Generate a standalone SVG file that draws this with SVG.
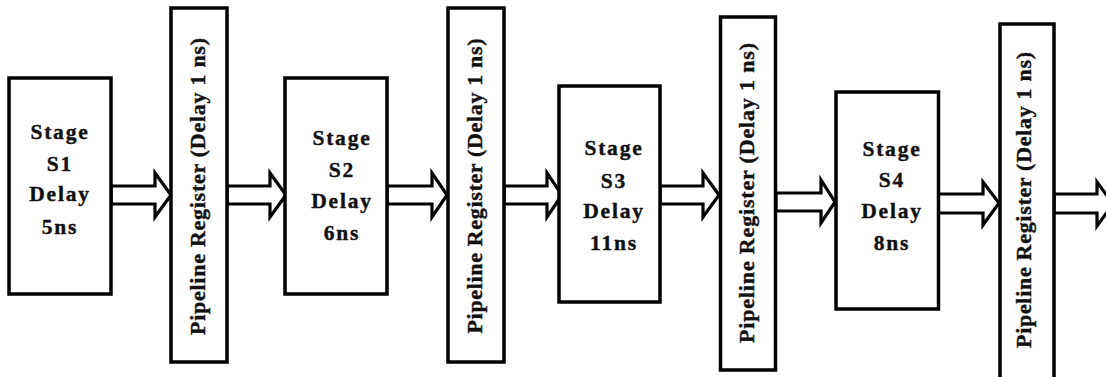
<svg xmlns="http://www.w3.org/2000/svg" width="1106" height="377" viewBox="0 0 1106 377">
<style>
.box{fill:#fff;stroke:#000;stroke-width:3.5}
.arr{fill:#fff;stroke:#000;stroke-width:3.2;stroke-linejoin:miter}
.t{font-family:"Liberation Serif","Times New Roman",serif;font-weight:bold;font-size:21.5px;fill:#111;stroke:#111;stroke-width:0.4;text-anchor:middle;letter-spacing:1.8px}
.v{font-family:"Liberation Serif","Times New Roman",serif;font-weight:bold;font-size:22px;fill:#111;stroke:#111;stroke-width:0.4;text-anchor:middle}
</style>
<rect width="1106" height="377" fill="#fff"/>
<g id="connectors">
<polygon class="arr" points="111,186 155,186 155,173 171,195 155,217 155,204 111,204"/>
<polygon class="arr" points="227,186 270,186 270,173 286,195 270,217 270,204 227,204"/>
<polygon class="arr" points="387,186 432,186 432,173 447,195 432,217 432,204 387,204"/>
<polygon class="arr" points="504,186 547,186 547,173 562,195 547,217 547,204 504,204"/>
<polygon class="arr" points="660,186 703,186 703,173 719,195 703,217 703,204 660,204"/>
<polygon class="arr" points="776,193 821,193 821,180 835,202 821,223 821,211 776,211"/>
<polygon class="arr" points="938,194 983,194 983,182 999,203 983,225 983,213 938,213"/>
<polygon class="arr" points="1054,194 1097,194 1097,182 1113,204 1097,226 1097,213 1054,213"/>
</g>
<g id="s1">
<rect class="box" x="9" y="78" width="102" height="216"/>
<text class="t" x="60" y="139">Stage</text>
<text class="t" x="60" y="171">S1</text>
<text class="t" x="60" y="201">Delay</text>
<text class="t" x="60" y="234">5ns</text>
</g>
<g id="r1">
<rect class="box" x="171" y="8" width="56" height="354"/>
<text class="v" transform="translate(205,186.5) rotate(-90)" textLength="297" lengthAdjust="spacing">Pipeline Register (Delay 1 ns)</text>
</g>
<g id="s2">
<rect class="box" x="285" y="78" width="102" height="216"/>
<text class="t" x="342" y="145">Stage</text>
<text class="t" x="342" y="177">S2</text>
<text class="t" x="342" y="208">Delay</text>
<text class="t" x="342" y="240">6ns</text>
</g>
<g id="r2">
<rect class="box" x="448" y="8" width="56" height="354"/>
<text class="v" transform="translate(482,186) rotate(-90)" textLength="295" lengthAdjust="spacing">Pipeline Register (Delay 1 ns)</text>
</g>
<g id="s3">
<rect class="box" x="559" y="86" width="101" height="216"/>
<text class="t" x="614" y="155">Stage</text>
<text class="t" x="614" y="188">S3</text>
<text class="t" x="614" y="218">Delay</text>
<text class="t" x="614" y="250">11ns</text>
</g>
<g id="r3">
<rect class="box" x="720.5" y="17" width="55" height="353"/>
<text class="v" transform="translate(754,193) rotate(-90)" textLength="300" lengthAdjust="spacing">Pipeline Register (Delay 1 ns)</text>
</g>
<g id="s4">
<rect class="box" x="836" y="92" width="102.5" height="217"/>
<text class="t" x="892" y="156">Stage</text>
<text class="t" x="892" y="187">S4</text>
<text class="t" x="892" y="218">Delay</text>
<text class="t" x="892" y="250">8ns</text>
</g>
<g id="r4">
<rect class="box" x="1000" y="24" width="54" height="360"/>
<text class="v" transform="translate(1031,200) rotate(-90)" textLength="296" lengthAdjust="spacing">Pipeline Register (Delay 1 ns)</text>
</g>
</svg>
